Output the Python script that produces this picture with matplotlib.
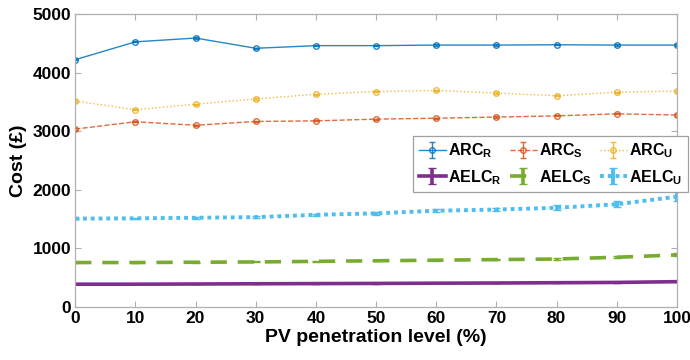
import matplotlib
matplotlib.use('Agg')
import matplotlib.pyplot as plt
import numpy as np

plt.rcParams['font.family'] = ['Liberation Sans', 'DejaVu Sans']
plt.rcParams['font.weight'] = 'bold'

pv_level = [0, 10, 20, 30, 40, 50, 60, 70, 80, 90, 100]

arc_r = [4220, 4525, 4590, 4415, 4460, 4460, 4470, 4470, 4475, 4470, 4470]
arc_s = [3035, 3160, 3100, 3165, 3175, 3205, 3220, 3240, 3260, 3295, 3275]
arc_u = [3515, 3365, 3460, 3550, 3630, 3675, 3695, 3650, 3605, 3665, 3685]
aelc_r = [385, 385, 388, 392, 395, 398, 402, 405, 410, 415, 428]
aelc_s = [755, 755, 760, 765, 775, 785, 795, 805, 815, 845, 885]
aelc_u = [1505, 1510, 1520, 1530, 1570, 1595, 1640, 1660, 1690, 1750, 1880]

arc_err = [10, 10, 10, 10, 10, 10, 10, 10, 10, 10, 10]
aelc_r_err = [5, 5, 5, 5, 5, 5, 5, 5, 5, 6, 8]
aelc_s_err = [8, 8, 8, 8, 10, 10, 10, 12, 15, 18, 25]
aelc_u_err = [10, 10, 15, 15, 20, 20, 25, 30, 40, 50, 80]

c_blue = '#0072BD'
c_orange = '#D95319'
c_yellow = '#EDB120'
c_purple = '#7E2F8E'
c_green = '#77AC30'
c_cyan = '#4DBEEE'

fig, ax = plt.subplots(figsize=(6.9, 3.6), dpi=100)
fig.subplots_adjust(left=0.109, right=0.981, bottom=0.148, top=0.961)

ax.errorbar(pv_level, arc_r, yerr=arc_err, color=c_blue, lw=1.0, ls='-', marker='o',
            ms=4, mfc='none', mew=1.0, capsize=2, alpha=0.85, label='ARC$_\\mathregular{R}$')
ax.errorbar(pv_level, aelc_r, yerr=aelc_r_err, color=c_purple, lw=2.6, ls='-',
            capsize=3, label='AELC$_\\mathregular{R}$')
ax.errorbar(pv_level, arc_s, yerr=arc_err, color=c_orange, lw=1.0, ls='--', marker='o',
            ms=4, mfc='none', mew=1.0, capsize=2, alpha=0.85, label='ARC$_\\mathregular{S}$')
ax.errorbar(pv_level, aelc_s, yerr=aelc_s_err, color=c_green, lw=2.6, ls=(0, (4.5, 3)),
            capsize=3, label='AELC$_\\mathregular{S}$')
ax.errorbar(pv_level, arc_u, yerr=arc_err, color=c_yellow, lw=1.0, ls=':', marker='o',
            ms=4, mfc='none', mew=1.0, capsize=2, alpha=0.85, label='ARC$_\\mathregular{U}$')
ax.errorbar(pv_level, aelc_u, yerr=aelc_u_err, color=c_cyan, lw=2.8, ls=(0, (1, 1)),
            capsize=3, label='AELC$_\\mathregular{U}$')

ax.set_xlim(0, 100)
ax.set_ylim(0, 5000)
ax.set_xticks(np.arange(0, 101, 10))
ax.set_yticks(np.arange(0, 5001, 1000))
ax.tick_params(direction='in', length=4, color='#b0b0b0', labelsize=12.5, pad=3)
for lab in ax.get_xticklabels() + ax.get_yticklabels():
    lab.set_fontweight('bold')
ax.tick_params(top=True, right=True)
for sp in ax.spines.values():
    sp.set_color('#b0b0b0')
    sp.set_linewidth(0.9)

ax.set_xlabel('PV penetration level (%)', fontsize=14, fontweight='bold', labelpad=2)
ax.set_ylabel('Cost (£)', fontsize=14, fontweight='bold', labelpad=4)

# legend box sits in figure coords, sticks slightly past the right axis like the original
leg = fig.legend(ncol=3, loc='upper left', bbox_to_anchor=(0.587, 0.645),
                 prop={'weight': 'bold', 'size': 11.5}, frameon=True, fancybox=False,
                 edgecolor='#a0a0a0', handlelength=1.7, handletextpad=0.15,
                 columnspacing=0.5, borderpad=0.35, labelspacing=0.5, framealpha=1)
leg.get_frame().set_linewidth(0.9)

plt.savefig('out.png')
